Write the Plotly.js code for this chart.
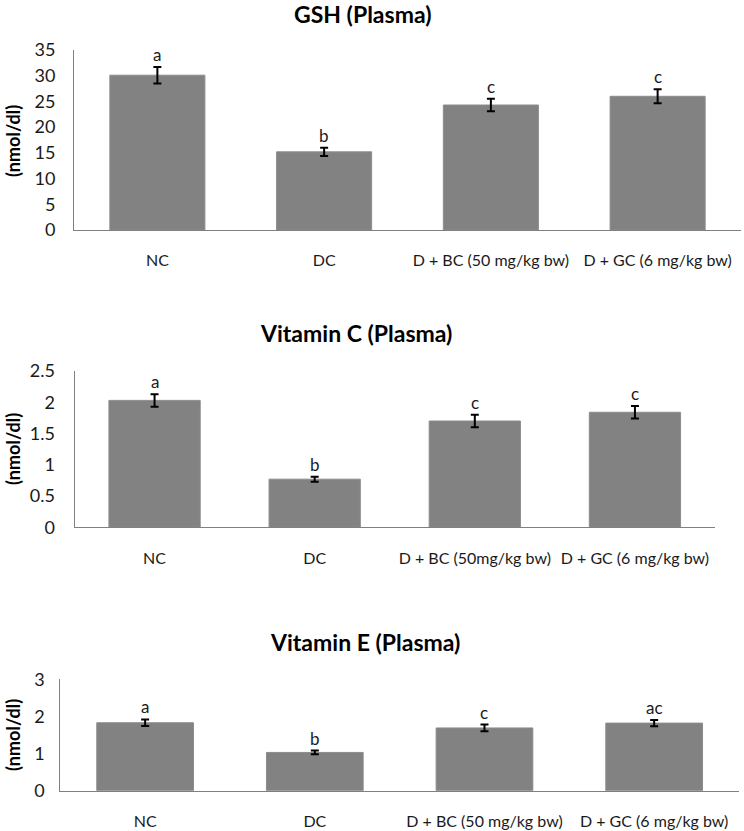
<!DOCTYPE html>
<html>
<head>
<meta charset="utf-8">
<script src="https://cdn.plot.ly/plotly-3.0.1.min.js"></script>
<style>html,body{margin:0;padding:0;background:#fff;}#chart{width:744px;height:831px;}</style>
</head>
<body>
<div id="chart"></div>
<script>
// ---- data ----
const categoriesGSH = ["NC", "DC", "D + BC (50 mg/kg bw)", "D + GC (6 mg/kg bw)"];
const categoriesVitC = ["NC", "DC", "D + BC (50mg/kg bw)", "D + GC (6 mg/kg bw)"];
const categoriesVitE = ["NC", "DC", "D + BC (50 mg/kg bw)", "D + GC (6 mg/kg bw)"];

const gshValues = [30.1, 15.2, 24.3, 26.0];
const gshErrors = [1.6, 0.8, 1.2, 1.35];
const gshLetters = ["a", "b", "c", "c"];

const vitCValues = [2.03, 0.77, 1.70, 1.84];
const vitCErrors = [0.10, 0.04, 0.10, 0.10];
const vitCLetters = ["a", "b", "c", "c"];

const vitEValues = [1.83, 1.03, 1.69, 1.82];
const vitEErrors = [0.09, 0.05, 0.09, 0.085];
const vitELetters = ["a", "b", "c", "ac"];

const panelTitles = ["GSH (Plasma)", "Vitamin C (Plasma)", "Vitamin E (Plasma)"];
const yAxisTitle = "(nmol/dl)";

// ---- layout helpers ----
const W = 744, H = 831;
const FONT = "Lato, 'Open Sans', 'Liberation Sans', sans-serif";
const px = v => v / W;
const py = v => 1 - v / H;

const panels = [
  {cats: categoriesGSH, vals: gshValues, errs: gshErrors, letters: gshLetters,
   x0: 74, x1: 741, yTop: 50, yBot: 230, range: [0, 35], dtick: 5,
   titleY: 14, titleX: 362, yTitleY: 141, tickStand: 14},
  {cats: categoriesVitC, vals: vitCValues, errs: vitCErrors, letters: vitCLetters,
   x0: 74.5, x1: 715, yTop: 371, yBot: 527.3, range: [0, 2.5], dtick: 0.5,
   titleY: 333, titleX: 356, yTitleY: 449, tickStand: 15},
  {cats: categoriesVitE, vals: vitEValues, errs: vitEErrors, letters: vitELetters,
   x0: 60.3, x1: 739, yTop: 679.3, yBot: 790.7, range: [0, 3], dtick: 1,
   titleY: 642, titleX: 365, yTitleY: 735, tickStand: 11}
];

const traces = [];
const layout = {
  width: W, height: H,
  margin: {l: 0, r: 0, t: 0, b: 0},
  paper_bgcolor: "#ffffff", plot_bgcolor: "#ffffff",
  showlegend: false,
  font: {family: FONT, size: 16, color: "#1a1a1a"},
  annotations: []
};

panels.forEach((p, i) => {
  const n = i + 1;
  const xa = n === 1 ? "x" : "x" + n;
  const ya = n === 1 ? "y" : "y" + n;
  traces.push({
    type: "bar",
    x: p.cats, y: p.vals,
    xaxis: xa, yaxis: ya,
    width: 0.57,
    marker: {color: "#828282", line: {color: "#8c8c8c", width: 1}},
    error_y: {type: "data", array: p.errs, visible: true, color: "#000000", thickness: 2, width: 4},
    hoverinfo: "none"
  });
  layout["xaxis" + (n === 1 ? "" : n)] = {
    domain: [px(p.x0), px(p.x1)],
    anchor: ya,
    type: "category",
    showline: true, linecolor: "#808080", linewidth: 1,
    showgrid: false, zeroline: false,
    ticks: "outside", ticklen: 16, tickcolor: "rgba(0,0,0,0)",
    tickfont: {family: FONT, size: 16, color: "#1a1a1a"},
    fixedrange: true
  };
  layout["yaxis" + (n === 1 ? "" : n)] = {
    domain: [py(p.yBot), py(p.yTop)],
    anchor: xa,
    range: p.range, dtick: p.dtick, tick0: 0,
    showline: true, linecolor: "#808080", linewidth: 1,
    showgrid: false, zeroline: false,
    ticks: "outside", ticklen: p.tickStand, tickcolor: "rgba(0,0,0,0)",
    tickfont: {family: FONT, size: 18, color: "#1a1a1a"},
    fixedrange: true
  };
  // panel title
  layout.annotations.push({
    xref: "paper", yref: "paper", x: px(p.titleX), y: py(p.titleY),
    xanchor: "center", yanchor: "middle", showarrow: false,
    text: "<b>" + panelTitles[i] + "</b>",
    font: {family: FONT, size: 23, color: "#000000"}
  });
  // y axis title
  layout.annotations.push({
    xref: "paper", yref: "paper", x: px(13), y: py(p.yTitleY),
    xanchor: "center", yanchor: "middle", showarrow: false, textangle: -90,
    text: "<b>" + yAxisTitle + "</b>",
    font: {family: FONT, size: 18, color: "#000000"}
  });
  // significance letters
  p.cats.forEach((c, j) => {
    layout.annotations.push({
      xref: xa, yref: ya, x: c, y: p.vals[j] + p.errs[j],
      xanchor: "center", yanchor: "bottom", showarrow: false, yshift: 0,
      text: p.letters[j],
      font: {family: FONT, size: 17, color: "#1a1a1a"}
    });
  });
});

Plotly.newPlot("chart", traces, layout, {displayModeBar: false, staticPlot: true});
</script>
</body>
</html>
